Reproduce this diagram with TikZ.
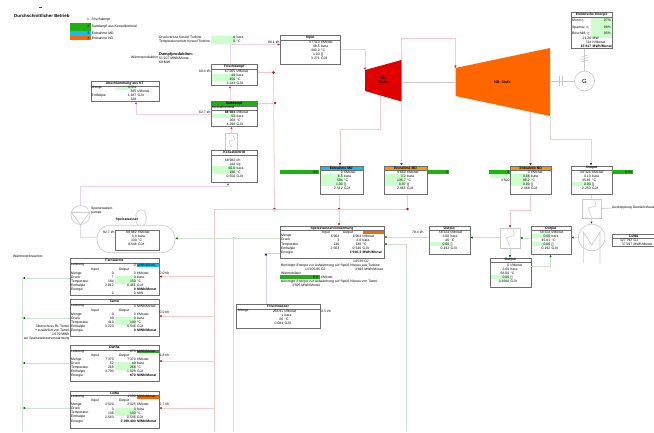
\documentclass[tikz,border=0pt]{standalone}
\usepackage{fontspec}
\setmainfont{Liberation Sans}
\usepackage{xcolor}
\usetikzlibrary{arrows.meta,positioning,shapes.geometric}
\definecolor{softgreen}{HTML}{CCFFCC}
\definecolor{barblue}{HTML}{16BDF0}
\definecolor{bargreen}{HTML}{1FB012}
\definecolor{barorange}{HTML}{FF6600}
\definecolor{baryellow}{HTML}{F0A000}
\definecolor{hdred}{HTML}{E00000}
\definecolor{framegray}{HTML}{6E6E6E}
\definecolor{lightgray}{HTML}{C8C8C8}
\definecolor{pipered}{HTML}{F6C8C8}
\definecolor{pipelilac}{HTML}{EFD0E8}
\definecolor{pipegreen}{HTML}{CCE2CC}
\definecolor{pipeblue}{HTML}{D0D0EE}
\newcommand{\tinyfont}{\fontsize{3.4}{4.05}\selectfont}
% value and unit, values end at the same place
\newcommand{\vu}[2]{\hbox to 20pt{\hfill #1}\hspace{1.5pt}#2}
\newcommand{\vvu}[3]{\hbox to 20pt{\hfill #1}\hbox to 22pt{\hfill #2}\hspace{1.5pt}#3}
% frame with its heading
\newcommand{\databox}[7]{%
  \node[databox,minimum width=#4,minimum height=#5] (#1) at (#2,#3) {};
  \node[boxhead,minimum width=#4,fill=#7] (#1head) at (#2,#3) {#6};
}
\newcommand{\hxsign}[2]{%
  \draw[hxline,shift={(#1.center)},scale=#2] (.3,-1) -- (.5,-.3) -- (-.4,-.05) -- (0,1);
}
\tikzset{
  databox/.style={
    rectangle,
    draw=framegray,
    line width=.8pt,
    anchor=north west,
    inner sep=0pt
  },
  boxhead/.style={
    rectangle,
    draw=framegray,
    line width=.5pt,
    anchor=north west,
    minimum height=4.5pt,
    inner sep=0pt,
    font=\tinyfont\bfseries
  },
  vals/.style={
    anchor=north west,
    inner sep=0pt,
    align=left,
    font=\tinyfont
  },
  plain/.style={
    anchor=west,
    inner sep=0pt,
    align=left,
    font=\tinyfont
  },
  hxbox/.style={
    rectangle,
    draw=lightgray,
    line width=.5pt,
    inner sep=0pt
  },
  hxline/.style={draw=lightgray, line width=.5pt},
  shaft/.style={draw=lightgray, line width=.6pt},
  jdot/.style={circle, fill=red!85!black, inner sep=0pt, minimum size=2.6pt},
  gdot/.style={circle, fill=green!40!black, inner sep=0pt, minimum size=2pt},
  redpipe/.style={draw=pipered, line width=.8pt, -{Latex[length=2.3pt,width=2.3pt,color=red!85!black]}},
  lilacpipe/.style={draw=pipelilac, line width=.8pt, -{Latex[length=2.3pt,width=2.3pt,color=magenta!80!black]}},
  greenpipe/.style={draw=pipegreen, line width=.8pt, -{Latex[length=2.3pt,width=2.3pt,color=green!40!black]}},
  bluepipe/.style={draw=pipeblue, line width=.8pt, -{Latex[length=2.3pt,width=2.3pt,color=blue!60!black]}}
}
\begin{document}
\begin{tikzpicture}[x=1pt,y=-1pt]
\useasboundingbox (0,0) rectangle (654,432);

% title and legend
\draw[hdred,line width=.5pt] (39,7.3) -- (42,7.3);
\node[plain,font=\fontsize{4.4}{5}\selectfont\bfseries] (title) at (14,15.7) {Durchschnittlicher Betrieb};
\fill[bargreen] (70,23) rectangle (90.5,30.7);
\fill[barblue] (70,30.7) rectangle (90.5,35.7);
\fill[barorange] (70,35.7) rectangle (90.5,39.7);
\node[plain] (leg1) at (87,20) {1\hspace{1.5pt} Frischdampf};
\node[plain] (leg2) at (87.3,26.7) {2\hspace{1.5pt} Sattdampf aus Kesselkontrnal};
\node[plain] (leg3) at (87.3,33) {3\hspace{1.5pt} Entnahme MD};
\node[plain] (leg4) at (87.3,38) {4\hspace{1.5pt} Entnahme ND};

\node[plain] (verlust) at (159,39.7) {Druckverlust Kessel Turbine\\Temperaturverlust Kessel Turbine};
\fill[softgreen] (211,36) rectangle (235.5,43.5);
\node[vals] (verlustv) at (215,36.2) {\vu{0}{bara}\\\vu{0}{°C}};

\node[plain,font=\fontsize{3.9}{4.4}\selectfont\bfseries] (dampf) at (159,54) {Dampfproduktion:};
\node[plain] (waerme) at (131,58) {Wärmeproduktion};
\node[plain] (waermev) at (159,60) {51'107 MWh/Monat\\69 MW};

% green fields under the frames
\fill[softgreen] (115,85.5) rectangle (136,89.5);
\fill[softgreen] (211,73.5) rectangle (236,81);
\fill[softgreen] (211,114) rectangle (236,118);
\fill[softgreen] (211,166) rectangle (236,174);
\fill[softgreen] (320,174) rectangle (342.5,186);
\fill[softgreen] (384,174) rectangle (406,186);
\fill[softgreen] (510,174) rectangle (530,186);
\fill[softgreen] (571,182) rectangle (591,186);
\fill[softgreen] (591,17.5) rectangle (612,38);
\fill[softgreen] (115,234) rectangle (136.5,242);
\fill[softgreen] (429,242) rectangle (449,246);
\fill[softgreen] (530.5,234) rectangle (550,238);
\fill[softgreen] (530.5,242) rectangle (550,246);
\fill[softgreen] (490,275) rectangle (509.5,279);
\fill[softgreen] (115,276) rectangle (136,284);
\fill[softgreen] (115,317) rectangle (136,325);
\fill[softgreen] (115,362) rectangle (136,370);
\fill[softgreen] (115,408) rectangle (136,416);

% boxes of the steam side
\databox{abschl}{90.5}{81}{68}{20}{Abschlämmung aus KT}{white}
\node[plain] (abschll) at (91.5,91.5) {Menge\\~\\Enthalpie};
\node[vals] (abschlv) at (116,86) {\vu{0.5\%}{}\\\vu{345}{t/Monat}\\\vu{1.187}{GJ/t}\\\vu{328}{}};

\databox{frisch}{211}{64}{46}{21}{Frischdampf}{white}
\node[vals] (frischv) at (215,69.5) {\vu{67'265}{t/Monat}\\\vu{49}{bara}\\\vu{450}{°C}\\\vu{3.333}{GJ/t}};
\node[plain] (frischf) at (199,71) {60.4 t/h};

\databox{satt}{211}{101}{46}{25}{Sattdampf}{bargreen}
\node[plain] (sattk) at (212,107.7) {Kesselkontrnal};
\draw[framegray,line width=.4pt] (211,110) -- (257,110);
\node[vals] (sattv) at (215,110.5) {\vu{\textbf{68'384}}{t/Monat}\\\vu{52}{bara}\\\vu{268}{°C}\\\vu{4.298}{GJ/t}};
\node[plain] (sattf) at (199,112) {62.7 t/h};

\databox{input}{280}{35}{60}{29}{Input}{white}
\node[vals] (inputv) at (299.5,40.5) {\vu{57'513}{t/Monat}\\\vu{49.5}{bara}\\\vu{400.0}{°C}\\\vu{1.00}{[]}\\\vu{3.271}{GJ/t}};
\node[plain] (inputf) at (268,42) {80.1 t/h};

\node[hxbox,minimum width=12,minimum height=17] (sattex) at (231.5,141.5) {};
\hxsign{sattex}{6}

\databox{kessel}{211}{150}{46}{32}{Kesseleintritt}{white}
\node[vals] (kesselv) at (215,158.5) {\vu{68'982}{t/h}\\\vu{144}{t/g}\\\vu{60.0}{bara}\\\vu{190}{°C}\\\vu{0.550}{GJ/t}};

% turbine
\coordinate (hdin) at (365,70);
\coordinate (hdtop) at (401.5,60);
\coordinate (hdbot) at (401.5,101.5);
\coordinate (hdleft) at (380.5,96);
\coordinate (ndin) at (455.5,68);
\coordinate (ndbot) at (550,116);
\coordinate (ndleft) at (530.5,112);
\draw[shaft] (401.5,82) -- (455,82);
\fill[hdred] (hdin) -- (hdtop) -- (hdbot) -- (365,91) -- cycle;
\fill[barorange] (ndin) -- (550,48) -- (ndbot) -- (455.5,96) -- cycle;
\node[font=\fontsize{3.6}{4.2}\selectfont\bfseries,align=center,inner sep=0pt] (hdtext) at (383,80) {HD-\\Stufe};
\node[font=\fontsize{3.6}{4.2}\selectfont\bfseries,inner sep=0pt] (ndtext) at (502.5,82) {ND- Stufe};

% generator
\node[circle,draw=lightgray,line width=.6pt,minimum size=20,inner sep=0pt,font=\fontsize{6}{7}\selectfont] (gen) at (584.5,81) {G};
\draw[shaft] (550,81) -- (gen.west);
\draw[shaft] (559,76) -- (559,86);
\draw[shaft] (562,76) -- (562,86);
\databox{elek}{571}{12}{41}{36}{Elektrische Energie}{white}
\node[plain] (elekl) at (572,27.4) {Mono η\\[2.5pt]Spannw. η\\[2.5pt]Beschäft. η};
\node[plain,anchor=east,align=right] (elekp) at (611,27.2) {97\%\\[2.5pt]98\%\\[2.5pt]95\%};
\node[vals] (elekv) at (571,36.5) {\vu{21.26}{MW}\\\vu{744}{h/Monat}\\\vu{\textbf{15'817}}{\textbf{MWh/Monat}}};
\draw[shaft] (gen.north) -- (elek.south -| gen.north);
\draw[shaft] (581,57) -- (588,55);
\draw[shaft] (581,59.5) -- (588,57.5);
\draw[shaft] (581,62) -- (588,60);

% extraction boxes
\databox{entcyan}{319.5}{165.5}{43}{28.5}{Entnahme MD}{barblue}
\node[vals] (entcyanv) at (322.5,170.5) {\vu{0}{t/Monat}\\\vu{6.5}{bara}\\\vu{594}{°C}\\\vu{1.00}{[]}\\\vu{2.512}{GJ/t}};
\databox{entorange}{383.5}{165.5}{43.5}{28.5}{Entnahme MD}{baryellow}
\node[vals] (entorangev) at (385.5,170.5) {\vu{9'669}{t/Monat}\\\vu{3.2}{bara}\\\vu{135.7}{°C}\\\vu{0.97}{[]}\\\vu{2.865}{GJ/t}};
\databox{entyellow}{510}{165.5}{41}{28.5}{Entnahme ND}{orange!85!yellow}
\node[vals] (entyellowv) at (509.5,170.5) {\vu{0}{t/Monat}\\\vu{0.66}{bara}\\\vu{88.2}{°C}\\\vu{0.90}{[]}\\\vu{2.468}{GJ/t}};
\databox{outtop}{571}{165.5}{41}{28.5}{Output}{white}
\node[vals] (outtopv) at (570.5,170.5) {\vu{58'324}{t/Monat}\\\vu{0.10}{bara}\\\vu{45.81}{°C}\\\vu{0.90}{[]}\\\vu{2.250}{GJ/t}};

\node[fill=bargreen,minimum width=39,minimum height=4,inner sep=0pt,align=right,font=\tinyfont] (barcyan) at (299.5,172) {\hbox to 37pt{\hfill 0\%}};
\node[fill=bargreen,minimum width=21,minimum height=4,inner sep=0pt,font=\tinyfont] (barorange1) at (438.5,172) {\hbox to 19pt{\hfill 0}};
\node[fill=bargreen,minimum width=20.5,minimum height=4,inner sep=0pt,font=\tinyfont] (baryellow1) at (499.7,172) {\hbox to 18.5pt{\hfill 0}};
\fill[softgreen] (489.5,174) rectangle (510,178);
\node[plain] (yellowextra) at (501,180) {4'500};
\node[fill=bargreen,minimum width=21,minimum height=4,inner sep=0pt,font=\tinyfont] (baroutput) at (622.5,172) {\hbox to 19pt{\hfill 87\%}};

% condenser side
\node[hxbox,minimum width=19.5,minimum height=19] (hxgarden) at (591.7,208.5) {};
\hxsign{hxgarden}{9}
\node[plain] (garden) at (612,208) {Auskopplung Gewächshaus};
\node[circle,draw=lightgray,line width=.6pt,minimum size=26.6,inner sep=0pt] (cond) at (591.7,237.5) {};
\draw[shaft] (583.3,263) -- (583.3,232) -- (591.7,245) -- (600,232) -- (600,263);
\databox{luwa}{611.5}{233.5}{44}{12.5}{LuWa}{white}
\node[vals] (luwav) at (612,238.5) {\vu{127'792}{GJ}\\\vu{37'297}{MWh/Monat}};

\databox{outmid}{530.5}{225.7}{40}{28.3}{Output}{white}
\node[vals] (outmidv) at (530,230.5) {\vu{58'324}{t/Monat}\\\vu{0.00}{bara}\\\vu{45.81}{°C}\\\vu{0.00}{[]}\\\vu{0.192}{GJ/t}};
\node[hxbox,minimum width=20,minimum height=20] (hxmain) at (510,238) {};
\hxsign{hxmain}{9}
\databox{outleft}{428.5}{225.7}{41}{28.3}{Output}{white}
\node[vals] (outleftv) at (429,230.5) {\vu{58'324}{t/Monat}\\\vu{3.00}{bara}\\\vu{46}{°C}\\\vu{0.00}{[]}\\\vu{0.192}{GJ/t}};
\node[plain] (outleftf) at (412,232) {78.4 t/h};
\databox{outlow}{489.5}{257.5}{41}{29.5}{Output}{white}
\node[vals] (outlowv) at (489,263.5) {\vu{0}{t/Monat}\\\vu{3.00}{bara}\\\vu{68.00}{°C}\\\vu{0.00}{[]}\\\vu{0.3666}{GJ/t}};

% feed water heating
\fill[barorange] (363,230.3) rectangle (383.5,234.3);
\databox{speise}{280}{225.7}{103.5}{32.3}{Speisewasservorwärmung}{white}
\node[plain] (speiseh) at (320,232.3) {\hspace{2pt}Input\hspace{13pt}Output};
\node[plain] (speisel) at (281,244.2) {Menge\\Druck\\Temperatur\\Enthalpie\\Energie};
\node[vals] (speisev) at (319,234.7) {\vvu{6'964}{6'964}{t/Monat}\\\vvu{3}{3.0}{bara}\\\vvu{136}{130}{°C}\\\vvu{2.563}{0.546}{GJ/t}\\\vvu{}{\textbf{1'916.3}}{\textbf{MWh/Monat}}};
\node[plain] (speisegj) at (353,261) {14'536 GJ};
\node[plain] (needturb) at (281,265.5) {Benötigte Energie zur Aufwärmung auf Speiß Niveau aus Turbine};
\node[plain] (needturba) at (305,269.5) {14'105.85 GJ};
\node[plain] (needturbb) at (355,269.5) {3'916 MWh/Monat};
\node[plain] (bilanz) at (281,273.3) {Wärmebilanz};
\node[fill=bargreen,minimum width=40,minimum height=4,inner sep=0pt,font=\tinyfont] (barbilanz) at (300,277) {\hbox to 36pt{\hfill 0.0}};
\node[plain] (bilanzu) at (321,277) {t/Monat};
\node[plain] (needtamol) at (281,281.5) {Benötigte Energie zur Aufwärmung auf Speiß Niveau von Tamol};
\node[plain] (needtamola) at (292,285.5) {3'596 MWh/Monat};

\databox{fwasser}{236}{304}{83.5}{24}{Frischwasser}{white}
\node[plain] (fwasserl) at (238,311) {Menge};
\node[vals] (fwasserv) at (263,309.5) {\vu{268.91}{t/Monat}\\\vu{1}{bara}\\\vu{20}{°C}\\\vu{0.084}{GJ/t}};
\node[plain] (fwasserf) at (321,311) {0.5 t/h};

% feed water tank and pump
\node[rectangle,rounded corners=5pt,draw=lightgray,line width=.6pt,fill=white,minimum width=10,minimum height=16.5,inner sep=0pt] (dome) at (141,218) {};
\node[rectangle,rounded corners=13pt,draw=lightgray,line width=.6pt,fill=white,minimum width=78,minimum height=27.5,inner sep=0pt] (tank) at (136,239) {};
\node[plain,font=\tinyfont\bfseries] (tankname) at (115.5,220) {Speisewasser};
\node[databox,minimum width=44,minimum height=20.5] (tankbox) at (114.5,229.7) {};
\node[vals] (tankv) at (116.5,230.5) {\vu{68'982}{t/Monat}\\\vu{3.0}{bara}\\\vu{130}{°C}\\\vu{0.546}{GJ/t}};
\node[plain] (tankf) at (103,232) {92.7 t/h};
\node[circle,draw=lightgray,line width=.6pt,minimum size=19,inner sep=0pt] (pump) at (80.5,215) {};
\draw[shaft] (71.5,212.5) -- (89.5,212.5) -- (pump.south) -- cycle;
\node[plain] (pumpname) at (91,210.3) {Speisewasser-\\pumpe};

% consumers
\node[plain] (consumers) at (13,256.5) {Wärmeverbraucher:};

\fill[barblue] (136.5,263.5) rectangle (158.5,267);
\databox{fern}{70}{258}{88.5}{37}{Fernwärme}{white}
\node[plain] (fernl) at (71,277.2) {Leistung\\~\\Menge\\Druck\\Temperatur\\Enthalpie\\Energie};
\node[plain] (fernio) at (91,269.3) {Input\hspace{20pt}Output};
\node[vals] (fernv) at (93.5,263.5) {\vvu{}{0}{MWh/Monat}\\\vvu{}{}{}\\\vvu{0}{0}{t/Monat}\\\vvu{7}{3}{bara}\\\vvu{184}{150}{°C}\\\vvu{2.812}{0.461}{GJ/t}\\\vvu{}{\textbf{0}}{\textbf{MWh/Monat}}\\\vvu{0}{0}{MW}};
\node[plain] (fernf) at (159.5,273) {0.0 t/h};

\databox{tamol}{70}{299}{88.5}{37}{Tamol}{white}
\node[plain] (tamoll) at (71,318.2) {Leistung\\~\\Menge\\Druck\\Temperatur\\Enthalpie\\Energie};
\node[plain] (tamolio) at (91,310.3) {Input\hspace{20pt}Output};
\node[vals] (tamolv) at (93.5,304.5) {\vvu{}{0}{MWh/Monat}\\\vvu{}{}{}\\\vvu{0}{0}{t/Monat}\\\vvu{49}{3}{bara}\\\vvu{410}{130}{°C}\\\vvu{3.223}{0.546}{GJ/t}\\\vvu{}{\textbf{0}}{\textbf{MWh/Monat}}};
\node[plain] (tamolf) at (159.5,312) {0.0 t/h};
\node[plain,anchor=east,align=right] (tamolnote) at (69.5,332.5) {Überschuss RL Tamol\\+ zusätzlich von Tamol\\1'679 MWh\\zur Speisewasservorwärmung};

\fill[bargreen] (136.5,349.5) rectangle (158.5,353);
\databox{dahlia}{70}{345}{88.5}{36}{Dahlia}{white}
\node[plain] (dahlial) at (71,363.5) {Leistung\\~\\Menge\\Druck\\Temperatur\\Enthalpie\\Energie};
\node[plain] (dahliaio) at (91,355.5) {Input\hspace{20pt}Output};
\node[vals] (dahliav) at (93.5,349.7) {\vvu{}{670}{MWh/Monat}\\\vvu{}{}{}\\\vvu{7'370}{7'370}{t/Monat}\\\vvu{52}{49}{bara}\\\vvu{268}{268}{°C}\\\vvu{3.793}{1.028}{GJ/t}\\\vvu{}{\textbf{670}}{\textbf{MWh/Monat}}};
\node[plain] (dahliaf) at (159.5,355) {1.8 t/h};

\fill[barorange] (136.5,395.2) rectangle (158.5,399);
\databox{luwacons}{70}{390.7}{88.5}{37.3}{LuWa}{white}
\node[plain] (luwal) at (71,409) {Leistung\\~\\Menge\\Druck\\Temperatur\\Enthalpie\\Energie};
\node[plain] (luwaio) at (91,401) {Input\hspace{20pt}Output};
\node[vals] (luwaconsv) at (93.5,395.2) {\vvu{}{1'190}{MWh/Monat}\\\vvu{}{}{}\\\vvu{2'520}{2'525}{t/Monat}\\\vvu{3}{3}{bara}\\\vvu{136}{130}{°C}\\\vvu{2.563}{0.546}{GJ/t}\\\vvu{}{\textbf{1'190.400}}{\textbf{MWh/Monat}}};
\node[plain] (luwaf) at (159.5,404.5) {2.7 t/h};

% junctions
\node[jdot] (j1) at (273.5,72.5) {};
\node[jdot] (j2) at (275,103) {};
\node[jdot] (j3) at (274.5,209) {};
\node[jdot] (j4) at (339,209) {};
\node[jdot] (j5) at (407.5,209) {};
\node[gdot] (j6) at (233.7,238.3) {};
\coordinate (bottomred) at (214.5,432);
\coordinate (bottomgreen) at (233.7,432);
\coordinate (bottomright) at (406.7,432);
\coordinate (bottomleft) at (22.7,432);

% pipes
\draw[lilacpipe] (230,0 |- satt.north) -- (230,0 |- frisch.south);
\draw[lilacpipe] (230,0 |- frisch.north) |- (input.west |- 0,44.5);
\draw[lilacpipe] (input.east |- 0,49) -| (hdin);
\draw[lilacpipe] (satt.west |- 0,114.5) -| (136,0 |- abschl.south);
\draw[lilacpipe] (sattex.north) -- (sattex.north |- satt.south);
\draw[lilacpipe,-] (sattex.south) -- (sattex.south |- kessel.north);
\draw[lilacpipe] (pump.north) |- (228,186.5) -- (228,0 |- kessel.south);
\draw[lilacpipe,-] (pump.south) |- (tank.west |- 0,237);

\draw[redpipe] (hdtop) -- (401.5,38) -| (ndin);
\draw[redpipe,-] (frisch.east |- 0,72.5) -- (j1);
\draw[redpipe,-] (satt.east |- 0,103) -- (j2);
\draw[redpipe,-] (j1) -- (j3);
\draw[redpipe,-] (bottomred) -- (214.5,209) -- (j5);
\draw[redpipe] (hdleft) |- (340,129) -- (340,0 |- entcyan.north);
\draw[redpipe] (hdbot) -- (hdbot |- entorange.north);
\draw[redpipe] (ndleft) -- (ndleft |- entyellow.north);
\draw[redpipe,-] (339,0 |- entcyan.south) -- (j4);
\draw[redpipe] (j4) -- (339,0 |- speise.north);
\draw[redpipe,-] (407.5,0 |- entorange.south) -- (j5);
\draw[redpipe] (530,0 |- entyellow.south) |- (510,210) -- (510,0 |- hxmain.north);
\draw[redpipe] (214.5,276.5) -- (fern.east |- 0,276.5);
\draw[redpipe] (214.5,316) -- (tamol.east |- 0,316);
\draw[redpipe] (214.5,361) -- (dahlia.east |- 0,361);
\draw[redpipe] (214.5,408) -- (luwacons.east |- 0,408);

\draw[greenpipe] (ndbot) |- (591,139) -- (591,0 |- outtop.north);
\draw[greenpipe,-] (591.5,0 |- outtop.south) -- (591.5,0 |- hxgarden.north);
\draw[greenpipe] (591.5,0 |- hxgarden.south) -- (591.5,0 |- cond.north);
\draw[greenpipe] (cond.west) -- (outmid.east |- cond.west);
\draw[greenpipe] (outmid.west |- 0,238) -- (hxmain.east |- 0,238);
\draw[greenpipe] (hxmain.west |- 0,237.5) -- (outleft.east |- 0,237.5);
\draw[greenpipe] (510,0 |- hxmain.south) -- (510,0 |- outlow.north);
\draw[greenpipe] (outlow.east |- 0,266) -| (550.5,0 |- outmid.south);
\draw[greenpipe] (outleft.west |- 0,237) -- (speise.east |- 0,237);
\draw[greenpipe] (bottomright) |- (speise.east |- 0,244);
\draw[greenpipe] (speise.west |- 0,238.3) -- (tank.east |- 0,238.3);
\draw[greenpipe,-] (bottomgreen) -- (j6);
\draw[greenpipe,-] (bottomleft) -- (22.7,278);
\draw[greenpipe] (fern.west |- 0,278) -- (22.7,278);
\draw[greenpipe] (tamol.west |- 0,318) -- (22.7,318);
\draw[greenpipe] (dahlia.west |- 0,363) -- (22.7,363);
\draw[greenpipe] (luwacons.west |- 0,408) -- (22.7,408);

\draw[bluepipe] (266,0 |- fwasser.north) -- (266,253);
\draw[bluepipe,-] (266,253) -- (speise.west |- 0,253);

\draw[shaft] (hxgarden.east) -- (garden.west);

\end{tikzpicture}
\end{document}
